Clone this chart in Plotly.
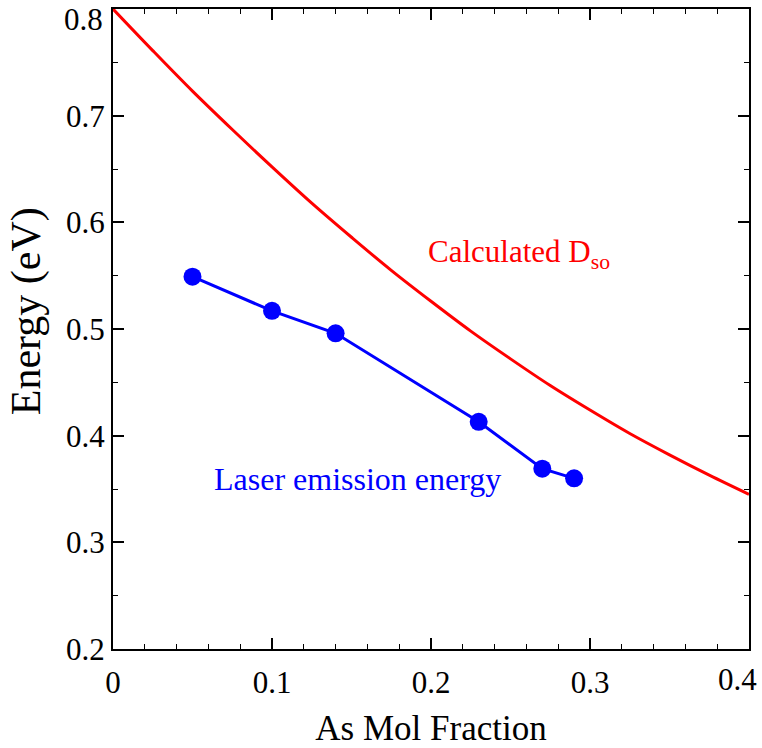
import plotly.graph_objects as go

# Calculated spin-orbit splitting curve
calc_x = [0, 0.025, 0.05, 0.075, 0.1, 0.125, 0.15, 0.175, 0.2, 0.225, 0.25,
          0.275, 0.3, 0.325, 0.35, 0.375, 0.4]
calc_y = [0.800, 0.761, 0.723, 0.687, 0.652, 0.618, 0.586, 0.555, 0.526, 0.498,
          0.472, 0.447, 0.424, 0.402, 0.382, 0.363, 0.345]

# Laser emission energy points
laser_x = [0.05, 0.10, 0.14, 0.23, 0.27, 0.29]
laser_y = [0.549, 0.517, 0.496, 0.413, 0.369, 0.360]

x_ticks = [0, 0.1, 0.2, 0.3, 0.4]
x_tick_labels = ["0", "0.1", "0.2", "0.3", "0.4"]
y_ticks = [0.2, 0.3, 0.4, 0.5, 0.6, 0.7, 0.8]
y_tick_labels = ["0.2", "0.3", "0.4", "0.5", "0.6", "0.7", "0.8"]

FONT = "Times New Roman"
TICK_SIZE = 31

fig = go.Figure()
fig.add_trace(go.Scatter(x=calc_x, y=calc_y, mode="lines", line=dict(color="#ff0000", width=3, shape="spline"),
                         showlegend=False, hoverinfo="skip"))
fig.add_trace(go.Scatter(x=laser_x, y=laser_y, mode="lines+markers",
                         line=dict(color="#0000ff", width=3),
                         marker=dict(color="#0000ff", size=18), showlegend=False))

fig.add_annotation(x=0.197, y=0.570, xref="x", yref="y", xanchor="left", yanchor="middle",
                   text="Calculated D<sub>so</sub>", showarrow=False,
                   font=dict(family=FONT, size=31, color="#ff0000"))
fig.add_annotation(x=0.062, y=0.359, xref="x", yref="y", xanchor="left", yanchor="middle",
                   text="Laser emission energy", showarrow=False,
                   font=dict(family=FONT, size=32, color="#0000ff"))

# Edge tick labels kept inside the page (as in the reference)
fig.add_annotation(x=0, y=y_ticks[-1], xref="paper", yref="y", xanchor="right", yanchor="middle",
                   text=y_tick_labels[-1], showarrow=False, xshift=-8, yshift=-10,
                   font=dict(family=FONT, size=TICK_SIZE, color="black"))
fig.add_annotation(x=x_ticks[-1], y=0, xref="x", yref="paper", xanchor="right", yanchor="top",
                   text=x_tick_labels[-1], showarrow=False, xshift=10, yshift=-11,
                   font=dict(family=FONT, size=TICK_SIZE, color="black"))

# Y axis title as rotated annotation (placed as in reference)
fig.add_annotation(x=-0.136, y=0.527, xref="paper", yref="paper", xanchor="center", yanchor="middle",
                   text="Energy (eV)", textangle=-90, showarrow=False,
                   font=dict(family=FONT, size=42, color="black"))

axis_common = dict(showline=True, linecolor="black", linewidth=2, mirror="ticks",
                   ticks="inside", ticklen=11, tickwidth=1.5, tickcolor="black",
                   showgrid=False, zeroline=False,
                   tickfont=dict(family=FONT, size=TICK_SIZE, color="black"))

fig.update_xaxes(range=[0, 0.4], tickvals=x_ticks[:-1], ticktext=x_tick_labels[:-1],
                 minor=dict(tickvals=[i * 0.02 for i in range(1, 20) if i % 5 != 0],
                            ticks="inside", ticklen=5, tickcolor="black", tickwidth=1.2),
                 title=dict(text="As Mol Fraction", font=dict(family=FONT, size=35, color="black"), standoff=16),
                 ticklabelstandoff=5,
                 **axis_common)
fig.update_yaxes(range=[0.2, 0.8], tickvals=y_ticks[:-1], ticktext=y_tick_labels[:-1],
                 minor=dict(tickvals=[0.25, 0.35, 0.45, 0.55, 0.65, 0.75],
                            ticks="inside", ticklen=5, tickcolor="black", tickwidth=1.2),
                 **axis_common)

fig.update_layout(width=762, height=748, margin=dict(l=113, r=13, t=7, b=93),
                  plot_bgcolor="white", paper_bgcolor="white",
                  font=dict(family=FONT))

fig.write_html("out.html")
